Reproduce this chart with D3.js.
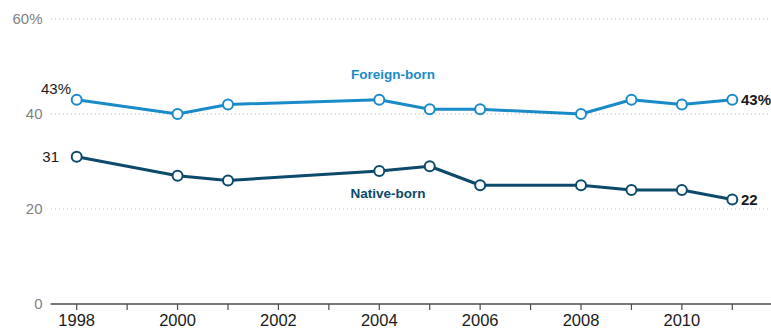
<!DOCTYPE html>
<html>
<head>
<meta charset="utf-8">
<script src="https://cdn.jsdelivr.net/npm/d3@7"></script>
<style>
  html, body { margin: 0; padding: 0; background: #fff; }
  svg { display: block; font-family: "Liberation Sans", Arial, sans-serif; }
</style>
</head>
<body>
<svg id="chart" width="771" height="330"></svg>
<script>
// Share of adults (%) by nativity, 1998–2011
const years       = [1998, 2000, 2001, 2004, 2005, 2006, 2008, 2009, 2010, 2011];
const foreignBorn = [43, 40, 42, 43, 41, 41, 40, 43, 42, 43];
const nativeBorn  = [31, 27, 26, 28, 29, 25, 25, 24, 24, 22];
const yTicks      = [0, 20, 40, 60];
const xTickYears  = d3.range(1998, 2012);
const xLabelYears = [1998, 2000, 2002, 2004, 2006, 2008, 2010];

const svg = d3.select("#chart");

const x = d3.scaleLinear().domain([1998, 2011]).range([76.7, 732.3]);
const y = d3.scaleLinear().domain([0, 60]).range([304, 19]);

const colForeign = "#1a8bc9";
const colNative  = "#0b4a6b";

// dotted gridlines
svg.append("g").selectAll("line")
  .data(yTicks.filter(d => d > 0))
  .join("line")
  .attr("x1", 51).attr("x2", 771)
  .attr("y1", d => y(d)).attr("y2", d => y(d))
  .attr("stroke", "#b5b5b5")
  .attr("stroke-width", 1)
  .attr("stroke-dasharray", "1,3");

// y labels
svg.append("g").selectAll("text")
  .data(yTicks)
  .join("text")
  .attr("x", 42.5)
  .attr("y", d => y(d) + 5)
  .attr("text-anchor", "end")
  .attr("fill", "#7f7f7f")
  .attr("font-size", 15)
  .text(d => d === 60 ? "60%" : d);

// x axis baseline and ticks
svg.append("line")
  .attr("x1", 50.5).attr("x2", 771)
  .attr("y1", y(0)).attr("y2", y(0))
  .attr("stroke", "#4d4d4d").attr("stroke-width", 1.6);

svg.append("g").selectAll("line")
  .data(xTickYears)
  .join("line")
  .attr("x1", d => x(d)).attr("x2", d => x(d))
  .attr("y1", y(0)).attr("y2", y(0) + 6)
  .attr("stroke", "#4d4d4d").attr("stroke-width", 1.2);

svg.append("g").selectAll("text")
  .data(xLabelYears)
  .join("text")
  .attr("x", d => x(d))
  .attr("y", 326)
  .attr("text-anchor", "middle")
  .attr("fill", "#1a1a1a")
  .attr("font-size", 16.5)
  .text(d => d);

// series
const series = [
  { name: "Foreign-born", values: foreignBorn, color: colForeign },
  { name: "Native-born",  values: nativeBorn,  color: colNative }
];

const line = d3.line().x(d => x(d.year)).y(d => y(d.value));

series.forEach(s => {
  const pts = years.map((yr, i) => ({ year: yr, value: s.values[i] }));
  svg.append("path")
    .datum(pts)
    .attr("d", line)
    .attr("fill", "none")
    .attr("stroke", s.color)
    .attr("stroke-width", 3)
    .attr("stroke-linejoin", "round");
  svg.append("g").selectAll("circle")
    .data(pts)
    .join("circle")
    .attr("cx", d => x(d.year))
    .attr("cy", d => y(d.value))
    .attr("r", 5)
    .attr("fill", "#fff")
    .attr("stroke", s.color)
    .attr("stroke-width", 2);
});

// series names
svg.append("text")
  .attr("x", 393).attr("y", 79)
  .attr("text-anchor", "middle")
  .attr("fill", colForeign)
  .attr("font-weight", "bold")
  .attr("font-size", 13.5)
  .text("Foreign-born");

svg.append("text")
  .attr("x", 388).attr("y", 198)
  .attr("text-anchor", "middle")
  .attr("fill", colNative)
  .attr("font-weight", "bold")
  .attr("font-size", 13.5)
  .text("Native-born");

// endpoint value labels
const first = 0, last = years.length - 1;
svg.append("text")
  .attr("x", 71).attr("y", y(foreignBorn[first]) - 6)
  .attr("text-anchor", "end")
  .attr("fill", "#1a1a1a")
  .attr("font-size", 15)
  .text(foreignBorn[first] + "%");

svg.append("text")
  .attr("x", 59).attr("y", y(nativeBorn[first]) + 5)
  .attr("text-anchor", "end")
  .attr("fill", "#1a1a1a")
  .attr("font-size", 15)
  .text(nativeBorn[first]);

svg.append("text")
  .attr("x", 741).attr("y", y(foreignBorn[last]) + 5)
  .attr("fill", "#1a1a1a")
  .attr("font-weight", "bold")
  .attr("font-size", 15)
  .text(foreignBorn[last] + "%");

svg.append("text")
  .attr("x", 741).attr("y", y(nativeBorn[last]) + 5)
  .attr("fill", "#1a1a1a")
  .attr("font-weight", "bold")
  .attr("font-size", 15)
  .text(nativeBorn[last]);
</script>
</body>
</html>
